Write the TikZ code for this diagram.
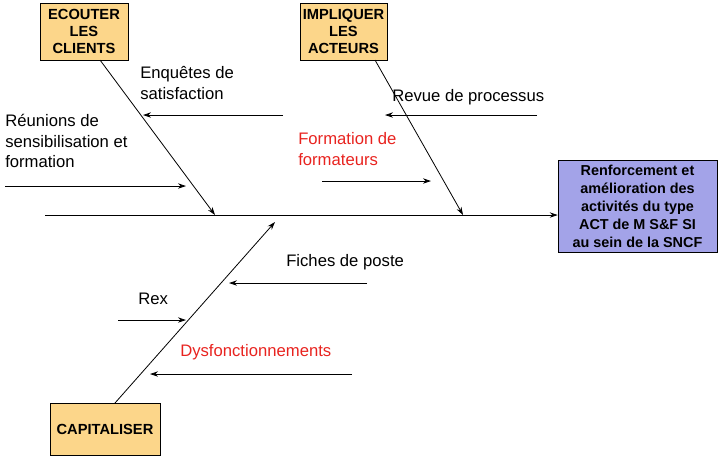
\documentclass[tikz,border=0pt]{standalone}
\usepackage{fontspec}
\setmainfont{Liberation Sans}
\usetikzlibrary{arrows.meta}
\definecolor{boxor}{HTML}{FCD68A}
\definecolor{boxlav}{HTML}{A3A3E8}
\definecolor{lbl}{HTML}{E8231F}
\begin{document}
\begin{tikzpicture}[x=0.75pt,y=-0.75pt,
  cause/.style={draw=black,fill=boxor,font=\bfseries\fontsize{11}{12.5}\selectfont,align=center,inner sep=0pt},
  arr/.style={-{Stealth[length=6pt,width=4pt]},line width=0.6pt},
  txt/.style={anchor=north west,align=left,inner sep=0pt,font=\fontsize{12.5}{15.5}\selectfont},
  red/.style={text=lbl}]
\useasboundingbox (0,0) rectangle (721,462);
\node[cause,minimum width=88*0.75pt,minimum height=57*0.75pt] (ec) at (84,31.5) {ECOUTER\\LES\\CLIENTS};
\node[cause,minimum width=87*0.75pt,minimum height=57*0.75pt] (im) at (343.5,31.5) {IMPLIQUER\\LES\\ACTEURS};
\node[cause,minimum width=110*0.75pt,minimum height=52*0.75pt] (ca) at (105,429) {CAPITALISER};
\node[draw=black,fill=boxlav,font=\bfseries\fontsize{10.8}{13.5}\selectfont,align=center,inner sep=0pt,minimum width=159*0.75pt,minimum height=92*0.75pt] (ef) at (637.5,206) {Renforcement et\\amélioration des\\activités du type\\ACT de M S\&F SI\\au sein de la SNCF};
\coordinate (s0) at (45,215);
\coordinate (e1) at (100,60); \coordinate (t1) at (215,215);
\coordinate (e2) at (375,60); \coordinate (t2) at (463,215);
\coordinate (e3) at (115,403); \coordinate (t3) at (275,222);
\draw[arr] (s0) -- (s0 -| ef.west);
\draw[arr] (e1) -- (t1);
\draw[arr] (e2) -- (t2);
\draw[arr] (e3) -- (t3);
\coordinate (a1) at (283,115); \coordinate (b1) at (143,115);
\coordinate (a2) at (5,186); \coordinate (b2) at (186,186);
\coordinate (a3) at (537,115); \coordinate (b3) at (385,115);
\coordinate (a4) at (322,181); \coordinate (b4) at (431,181);
\coordinate (a5) at (367,283); \coordinate (b5) at (229,283);
\coordinate (a6) at (118,320); \coordinate (b6) at (186,320);
\coordinate (a7) at (352,374); \coordinate (b7) at (150,374);
\foreach \i in {1,...,7} \draw[arr] (a\i) -- (b\i);
\node[txt] (l1) at (140,66) {Enquêtes de\\satisfaction};
\node[txt] (l2) at (5,114) {Réunions de\\sensibilisation et\\formation};
\node[txt] (l3) at (392,89) {Revue de processus};
\node[txt,red] (l4) at (298,132) {Formation de\\formateurs};
\node[txt] (l5) at (286,254) {Fiches de poste};
\node[txt] (l6) at (138,293) {Rex};
\node[txt,red] (l7) at (180,344) {Dysfonctionnements};
\end{tikzpicture}
\end{document}
